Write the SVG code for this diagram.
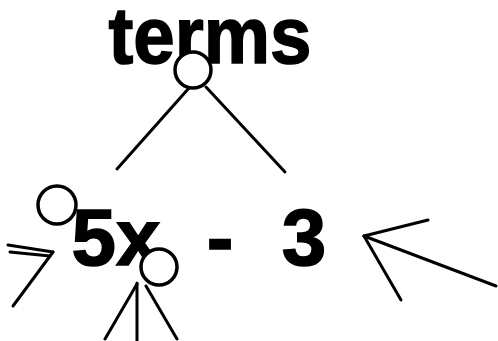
<svg xmlns="http://www.w3.org/2000/svg" width="498" height="341" viewBox="0 0 498 341">
<style>
.t{font-family:"Liberation Sans",Arial,sans-serif;font-weight:bold;fill:#000;stroke:#000;stroke-width:1.5;text-anchor:middle}
.c{fill:#fff;stroke:#000;stroke-width:3.5}
.l{stroke:#000;stroke-width:3;fill:none;stroke-linecap:round}
</style>
<rect width="498" height="341" fill="#fff"/>
<g id="terms"><text class="t" x="210" y="63" font-size="80" textLength="203" lengthAdjust="spacingAndGlyphs">terms</text></g>
<g id="term-5x"><text class="t" x="116" y="265" font-size="80">5x</text></g>
<g id="minus"><text class="t" x="220" y="265" font-size="80">-</text></g>
<g id="term-3"><text class="t" x="304" y="265" font-size="80">3</text></g>
<g id="connectors">
<line class="l" x1="189" y1="88" x2="117" y2="169"/>
<line class="l" x1="206" y1="87" x2="285" y2="172"/>
<line class="l" x1="8" y1="245" x2="53" y2="252"/>
<line class="l" x1="10" y1="252" x2="50" y2="256"/>
<line class="l" x1="13" y1="306" x2="53" y2="252"/>
<line class="l" x1="496" y1="286" x2="364" y2="236"/>
<line class="l" x1="428" y1="220" x2="364" y2="236"/>
<line class="l" x1="401" y1="300" x2="364" y2="236"/>
<line class="l" x1="137" y1="283" x2="137" y2="341"/>
<line class="l" x1="137" y1="284" x2="105" y2="339"/>
<line class="l" x1="146" y1="286" x2="177" y2="339"/>
</g>
<g id="circle-top"><circle class="c" cx="193" cy="70" r="18"/></g>
<g id="circle-left"><circle class="c" cx="57" cy="205" r="19"/></g>
<g id="circle-bottom"><circle class="c" cx="159" cy="267" r="18"/></g>
</svg>
